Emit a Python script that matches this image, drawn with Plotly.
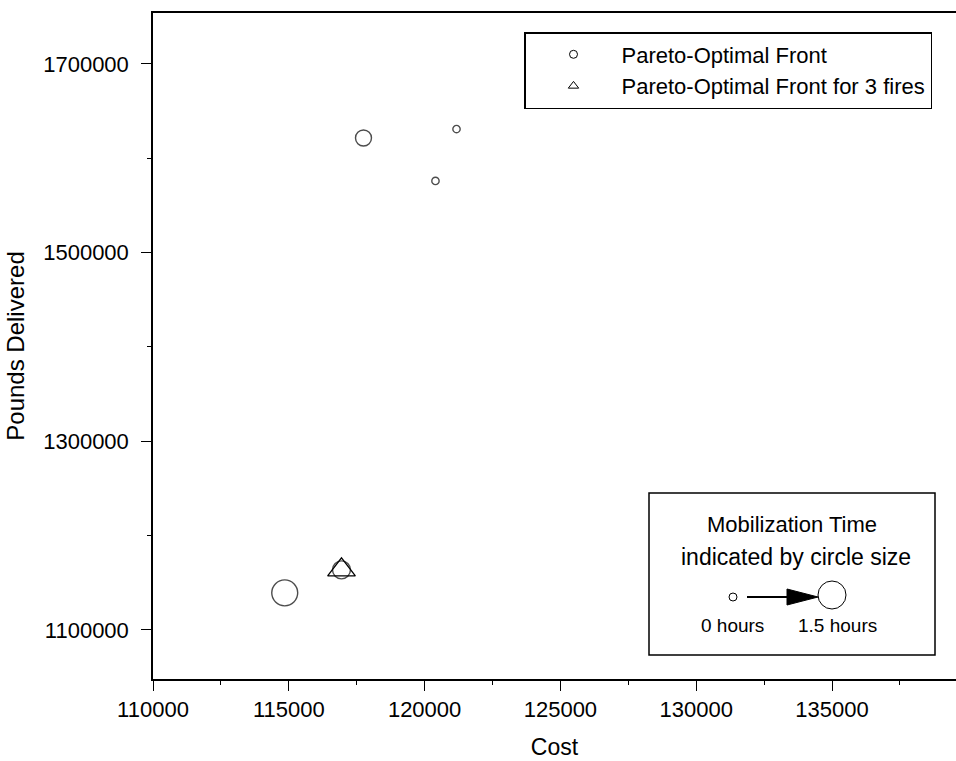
import plotly.graph_objects as go

# ---- data ----
cost = [114850, 116940, 117750, 120400, 121175]
pounds = [1139300, 1163700, 1621500, 1576000, 1631000]
mob_hours = [1.5, 0.9, 0.75, 0.1, 0.1]

cost_3fires = [116940]
pounds_3fires = [1163700]

x_ticks = [110000, 115000, 120000, 125000, 130000, 135000]
y_ticks = [1100000, 1300000, 1500000, 1700000]

FONT = "Liberation Sans, Arial, Helvetica, sans-serif"

W, H = 956, 761
ML, MR, MT, MB = 153, 0, 13, 82
PW, PH = W - ML - MR, H - MT - MB


def px(xp):
    return (xp - ML) / PW


def py(yp):
    return (H - MB - yp) / PH


sizes = [6 + 13.3 * h for h in mob_hours]

fig = go.Figure()

fig.add_trace(go.Scatter(
    x=cost, y=pounds, mode="markers", showlegend=False,
    marker=dict(symbol="circle-open", size=sizes, color="black",
                line=dict(color="black", width=1.4)),
    hoverinfo="x+y"))

fig.add_trace(go.Scatter(
    x=cost_3fires, y=pounds_3fires, mode="markers", showlegend=False,
    marker=dict(symbol="triangle-up-open", size=24, color="black",
                line=dict(color="black", width=1.3))))

# legend entries
fig.add_trace(go.Scatter(
    x=[None], y=[None], mode="markers", name="Pareto-Optimal Front",
    marker=dict(symbol="circle-open", size=8, color="black",
                line=dict(color="black", width=1))))
fig.add_trace(go.Scatter(
    x=[None], y=[None], mode="markers", name="Pareto-Optimal Front for 3 fires",
    marker=dict(symbol="triangle-up-open", size=9, color="black",
                line=dict(color="black", width=1))))

axis_common = dict(
    showline=True, linecolor="black", linewidth=1.5,
    ticks="outside", ticklen=10, tickwidth=1, tickcolor="black",
    showgrid=False, zeroline=False,
    tickfont=dict(family=FONT, size=22, color="black"),
)

fig.update_xaxes(
    range=[110000, 110000 + (W - ML) / 135.8 * 5000],
    tickvals=x_ticks, ticktext=[str(v) for v in x_ticks],
    mirror=True,
    minor=dict(dtick=2500, ticks="outside", ticklen=4, tickcolor="black"),
    title=dict(text="Cost", font=dict(family=FONT, size=23, color="black"), standoff=18),
    ticklabelstandoff=0,
    **axis_common)

fig.update_yaxes(
    range=[1048000, 1754000],
    tickvals=y_ticks, ticktext=[str(v) for v in y_ticks],
    mirror=False,
    minor=dict(dtick=100000, ticks="outside", ticklen=4, tickcolor="black"),
    title=dict(text="Pounds Delivered", font=dict(family=FONT, size=24, color="black"), standoff=12),
    ticklabelstandoff=8,
    **axis_common)

# second legend box (mobilization time)
shapes = [
    dict(type="rect", xref="paper", yref="paper",
         x0=px(649), x1=px(935), y0=py(655), y1=py(493),
         line=dict(color="black", width=1.5), fillcolor="white", layer="below"),
    dict(type="circle", xref="paper", yref="paper", xsizemode="pixel", ysizemode="pixel",
         xanchor=px(733), yanchor=py(597), x0=-4, x1=4, y0=-4, y1=4,
         line=dict(color="black", width=1)),
    dict(type="circle", xref="paper", yref="paper", xsizemode="pixel", ysizemode="pixel",
         xanchor=px(832), yanchor=py(595), x0=-14, x1=14, y0=-14, y1=14,
         line=dict(color="black", width=1)),
    dict(type="line", xref="paper", yref="paper",
         x0=px(747), x1=px(792), y0=py(597), y1=py(597),
         line=dict(color="black", width=2)),
    dict(type="path", xref="paper", yref="paper", xsizemode="pixel", ysizemode="pixel",
         xanchor=px(818), yanchor=py(597),
         path="M-31,-8 L0,0 L-31,8 Z", fillcolor="black",
         line=dict(color="black", width=1)),
]

annotations = [
    dict(text="Mobilization Time", xref="paper", yref="paper", x=px(792), y=py(524),
         showarrow=False, xanchor="center", yanchor="middle",
         font=dict(family=FONT, size=22, color="black")),
    dict(text="indicated by circle size", xref="paper", yref="paper", x=px(796), y=py(557),
         showarrow=False, xanchor="center", yanchor="middle",
         font=dict(family=FONT, size=23, color="black")),
    dict(text="0 hours", xref="paper", yref="paper", x=px(732), y=py(625),
         showarrow=False, xanchor="center", yanchor="middle",
         font=dict(family=FONT, size=19, color="black")),
    dict(text="1.5 hours", xref="paper", yref="paper", x=px(837), y=py(625),
         showarrow=False, xanchor="center", yanchor="middle",
         font=dict(family=FONT, size=19, color="black")),
]

fig.update_layout(
    width=W, height=H,
    margin=dict(l=ML, r=MR, t=MT, b=MB),
    paper_bgcolor="white", plot_bgcolor="white",
    font=dict(family=FONT, color="black"),
    shapes=shapes, annotations=annotations,
    showlegend=True,
    legend=dict(x=px(524), y=py(32), xanchor="left", yanchor="top",
                bordercolor="black", borderwidth=1.5, bgcolor="white",
                font=dict(family=FONT, size=22, color="black"),
                itemwidth=86, tracegroupgap=0),
)

fig.write_html("out.html")
